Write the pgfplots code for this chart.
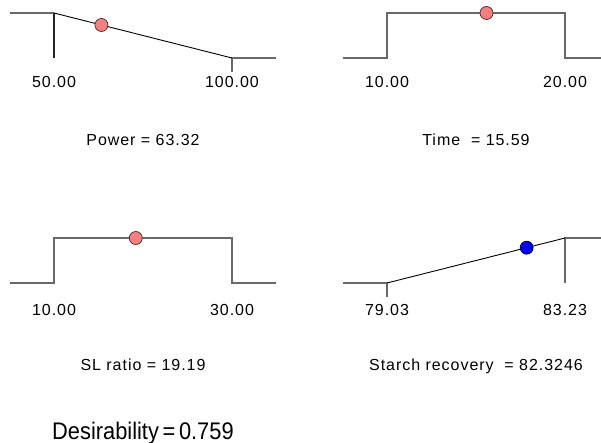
\documentclass[border=0pt]{standalone}
\usepackage{pgfplots}
\pgfplotsset{compat=1.18}
\usepackage{fontspec}
\setmainfont{Liberation Sans}
\newfontfamily\trk[LetterSpace=6]{Liberation Sans}
\definecolor{lgray}{RGB}{105,105,105}
\definecolor{salmon}{RGB}{244,128,128}
\definecolor{mout}{RGB}{70,40,40}
\pgfplotsset{panel/.style={scale only axis, width=266pt, height=45pt, ymin=0, ymax=1,
  clip=false, hide axis, anchor=south west},
  gl/.style={color=lgray, line width=1.4pt, no marks},
  bl/.style={color=black, line width=0.9pt, no marks},
  pt/.style={only marks, mark=*, mark size=6.5pt, mark options={fill=salmon, draw=mout, line width=0.7pt}},
  bpt/.style={only marks, mark=*, mark size=6.5pt, mark options={fill=blue, draw=black, line width=0.7pt}}}
\begin{document}
\begin{tikzpicture}
\path[use as bounding box] (0,0) rectangle (601pt,-443pt);
% Panel 1: Power
\begin{axis}[panel, at={(10pt,-58pt)}, xmin=37.64, xmax=112.36]
\addplot[gl] coordinates {(37.64,1) (50,1)};
\addplot[gl] coordinates {(100,-0.311) (100,0) (112.36,0)};
\addplot[color=black!85, line width=1.3pt, no marks] coordinates {(50,0) (50,1)};
\addplot[bl] coordinates {(50,1) (100,0)};
\addplot[pt] coordinates {(63.32,0.7336)};
\node[font=\fontsize{16}{19}\trk, anchor=base] at ([yshift=-30pt]axis cs:50,0) {50.00};
\node[font=\fontsize{16}{19}\trk, anchor=base] at ([yshift=-30pt]axis cs:100,0) {100.00};
\node[font=\fontsize{16}{19}\trk, anchor=base] at ([yshift=-88pt]rel axis cs:0.5,0) {Power = 63.32};
\end{axis}
% Panel 2: Time
\begin{axis}[panel, at={(343pt,-58pt)}, xmin=7.528, xmax=22.472]
\addplot[gl] coordinates {(7.528,0) (10,0) (10,1) (20,1) (20,0) (22.02,0)};
\addplot[pt] coordinates {(15.59,1)};
\node[font=\fontsize{16}{19}\trk, anchor=base] at ([yshift=-30pt]axis cs:10,0) {10.00};
\node[font=\fontsize{16}{19}\trk, anchor=base] at ([yshift=-30pt]axis cs:20,0) {20.00};
\node[font=\fontsize{16}{19}\trk, anchor=base] at ([yshift=-88pt]rel axis cs:0.5,0) {Time\ \ = 15.59};
\end{axis}
% Panel 3: SL ratio
\begin{axis}[panel, at={(10pt,-283pt)}, xmin=5.056, xmax=34.944]
\addplot[gl] coordinates {(5.056,0) (10,0) (10,1) (30,1) (30,0) (34.944,0)};
\addplot[pt] coordinates {(19.19,1)};
\node[font=\fontsize{16}{19}\trk, anchor=base] at ([yshift=-32pt]axis cs:10,0) {10.00};
\node[font=\fontsize{16}{19}\trk, anchor=base] at ([yshift=-32pt]axis cs:30,0) {30.00};
\node[font=\fontsize{16}{19}\trk, anchor=base] at ([yshift=-87pt]rel axis cs:0.5,0) {SL ratio = 19.19};
\end{axis}
% Panel 4: Starch recovery
\begin{axis}[panel, at={(343pt,-283pt)}, xmin=77.992, xmax=84.268]
\addplot[gl] coordinates {(77.992,0) (79.03,0) (79.03,-0.311)};
\addplot[gl] coordinates {(83.23,0) (83.23,1) (84.08,1)};
\addplot[bl] coordinates {(79.03,0) (83.23,1)};
\addplot[bpt] coordinates {(82.3246,0.7844)};
\node[font=\fontsize{16}{19}\trk, anchor=base] at ([yshift=-32pt]axis cs:79.03,0) {79.03};
\node[font=\fontsize{16}{19}\trk, anchor=base] at ([yshift=-32pt]axis cs:83.23,0) {83.23};
\node[font=\fontsize{16}{19}\trk, anchor=base] at ([yshift=-87pt]rel axis cs:0.5,0) {Starch recovery\ \ = 82.3246};
\end{axis}
\node[anchor=base west, inner sep=0pt, font=\fontsize{24}{28}\selectfont] at (52pt,-439pt) {\scalebox{0.91}[1]{Desirability\,=\,0.759}};
\end{tikzpicture}
\end{document}
